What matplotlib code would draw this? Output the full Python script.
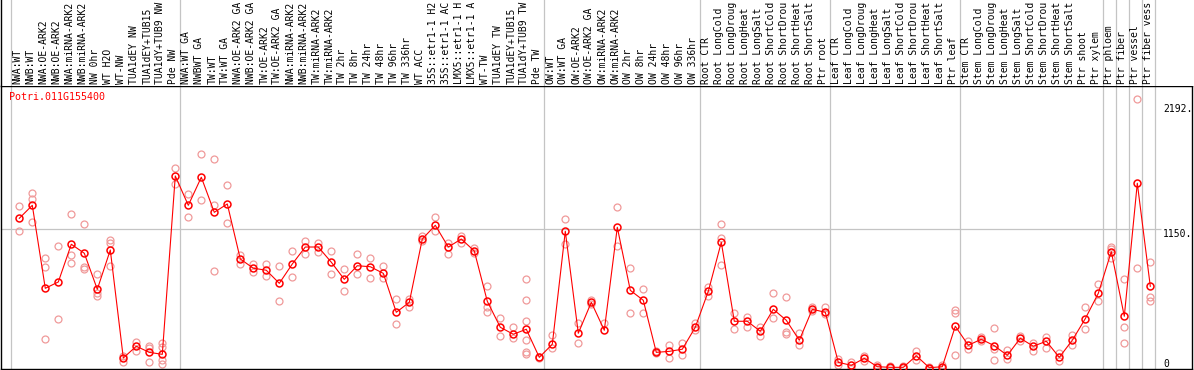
"""Expression profile of Potri.011G155400 across poplar samples (eFP-style strip chart)."""

import matplotlib

matplotlib.use("Agg")
import matplotlib.pyplot as plt
import numpy as np

GENE = "Potri.011G155400"

# sample names as far as they are shown in the header strip
SAMPLES = [
    "NWA:WT", "NWB:WT", "NWA:OE-ARK2", "NWB:OE-ARK2", "NWA:miRNA-ARK2", "NWB:miRNA-ARK2",
    "NW 0hr", "WT H2O", "WT-NW", "TUA1dEY NW", "TUA1dEY+TUB15", "TUA1dY+TUB9 NW", "Pde NW",
    "NWA:WT GA", "NWBWT GA", "TW:WT", "TW:WT GA", "NWA:OE-ARK2 GA", "NWB:OE-ARK2 GA",
    "TW:OE-ARK2", "TW:OE-ARK2 GA", "NWA:miRNA-ARK2", "NWB:miRNA-ARK2", "TW:miRNA-ARK2",
    "TW:miRNA-ARK2", "TW 2hr", "TW 8hr", "TW 24hr", "TW 48hr", "TW 96hr", "TW 336hr",
    "WT ACC", "35S::etr1-1 H2", "35S::etr1-1 AC", "LMX5::etr1-1 H", "LMX5::etr1-1 A",
    "WT-TW", "TUA1dEY TW", "TUA1dEY+TUB15", "TUA1dY+TUB9 TW", "Pde TW",
    "OW:WT", "OW:WT GA", "OW:OE-ARK2", "OW:OE-ARK2 GA", "OW:miRNA-ARK2", "OW:miRNA-ARK2",
    "OW 2hr", "OW 8hr", "OW 24hr", "OW 48hr", "OW 96hr", "OW 336hr",
    "Root CTR", "Root LongCold", "Root LongDroug", "Root LongHeat", "Root LongSalt",
    "Root ShortCold", "Root ShortDrou", "Root ShortHeat", "Root ShortSalt", "Ptr root",
    "Leaf CTR", "Leaf LongCold", "Leaf LongDroug", "Leaf LongHeat", "Leaf LongSalt",
    "Leaf ShortCold", "Leaf ShortDrou", "Leaf ShortHeat", "Leaf ShortSalt", "Ptr leaf",
    "Stem CTR", "Stem LongCold", "Stem LongDroug", "Stem LongHeat", "Stem LongSalt",
    "Stem ShortCold", "Stem ShortDrou", "Stem ShortHeat", "Stem ShortSalt", "Ptr shoot",
    "Ptr xylem", "Ptr phloem", "Ptr fiber", "Ptr vessel", "Ptr fiber vess",
]

MEANS = [
    1233, 1337, 672, 723, 1025, 953, 664, 979, 114, 208,
    159, 143, 1572, 1337, 1562, 1281, 1348, 907, 833, 817,
    712, 867, 1003, 1003, 881, 744, 853, 845, 792, 480,
    560, 1067, 1177, 1003, 1067, 971, 568, 360, 304, 344,
    119, 224, 1129, 312, 560, 336, 1161, 656, 576, 159,
    167, 184, 360, 648, 1041, 408, 408, 328, 504, 416,
    256, 504, 480, 79, 55, 111, 44, 39, 39, 132,
    36, 44, 368, 216, 264, 212, 135, 272, 208, 248,
    119, 256, 429, 632, 966, 448, 1514, 688,
]

REPLICATES = [
    [1334, 1129], [1436, 1385, 1201], [913, 841, 264], [1009, 429], [1265, 937, 873],
    [1185, 841, 829], [784, 632, 613], [1059, 1033, 853], [79, 132], [240, 172],
    [210, 79, 192], [236, 204, 98, 66], [1634, 1508], [1425, 1246], [1748, 1380],
    [1706, 1340, 809], [1500, 1196], [939, 865], [867, 805], [867, 771],
    [851, 571], [969, 763], [1051, 945], [1033, 966], [969, 784],
    [829, 648], [945, 784], [915, 752], [851, 752], [584, 384],
    [584, 525], [1094, 1051], [1241, 1134], [1038, 945], [1091, 1038],
    [993, 958], [688, 525, 480], [432, 288], [360, 272], [744, 576, 408, 256, 159, 143],
    [125, 112], [296, 192], [1225, 1025], [392, 232], [579, 547],
    [392], [1321, 1009], [833, 472], [664, 472], [172, 151],
    [216, 111], [232, 135], [392, 336], [685, 608], [1185, 1073, 857],
    [472, 349], [440, 365], [360, 292], [632, 432], [600, 320, 306],
    [317, 220], [520, 490], [525, 464], [103, 55], [79, 30],
    [130, 92], [60, 30], [50, 30], [50, 30], [172, 95],
    [45, 28], [60, 30], [496, 477, 135], [252, 188], [284, 248],
    [352, 188, 95], [180, 103], [292, 248], [232, 172], [284, 192],
    [151, 92], [296, 216], [525, 344], [704, 568], [1001, 990, 913],
    [744, 360, 232], [2192, 833], [879, 605, 568],
]

# last sample index of each group (-1 = line before the first sample)
GROUP_ENDS = [-1, 12, 40, 52, 62, 72, 83, 84, 85, 86, 87]

Y_TICKS = [0, 1150, 2192]
Y_TICK_LABELS = ["0", "1150.", "2192."]
Y_TICK_OFFSETS = [13.5, 0, -5.7]  # pixels, label top relative to value
GRID_VALUE = 1150

W, H = 1194, 370
PX = 13.0          # pixels per sample
X_LEFT = -1.446    # data x at left edge of the axes
Y_RANGE = (25.6, 2297)

RED = "#ff0000"
PINK = "#f09a9a"
GREY = "#c4c4c4"
FONT = "DejaVu Sans Mono"


def main():
    fig = plt.figure(figsize=(W / 100, H / 100), dpi=100)

    # --- main plot area ---
    ax = fig.add_axes([0.5 / W, (H - 369) / H, 1191 / W, 283.5 / H])
    ax.set_xlim(X_LEFT, X_LEFT + 1191 / PX)
    ax.set_ylim(*Y_RANGE)
    ax.set_xticks([])
    ax.set_yticks([])
    for sp in ax.spines.values():
        sp.set_linewidth(1.0)
        sp.set_color("black")

    x = np.arange(len(SAMPLES))
    for g in GROUP_ENDS:
        ax.axvline(g + 0.38, color=GREY, linewidth=0.9, zorder=0)
    ax.hlines(GRID_VALUE, X_LEFT, 87.8, color=GREY, linewidth=0.9, zorder=0)

    rx = np.concatenate([[i] * len(r) for i, r in enumerate(REPLICATES)])
    ry = np.concatenate(REPLICATES)
    ax.plot(rx, ry, linestyle="none", marker="o", markersize=5, fillstyle="none",
            markeredgecolor=PINK, markeredgewidth=0.9, zorder=2)
    ax.plot(x, MEANS, color=RED, linewidth=0.8, zorder=3)
    ax.plot(x, MEANS, linestyle="none", marker="o", markersize=5, fillstyle="none",
            markeredgecolor=RED, markeredgewidth=1.1, zorder=4)

    ax.text(0.0075, 0.959, GENE, transform=ax.transAxes, color=RED, fontsize=7.2,
            family=FONT, ha="left", va="center")

    for v, lab, off in zip(Y_TICKS, Y_TICK_LABELS, Y_TICK_OFFSETS):
        ax.annotate(lab, xy=(88.0, v), xytext=(0, off), textcoords="offset pixels",
                    ha="left", va="top", fontsize=7, family=FONT, annotation_clip=False)

    # --- rotated sample labels above ---
    axl = fig.add_axes([0.5 / W, (H - 85.5) / H, 1193.5 / W, 85.5 / H])
    axl.set_xlim(X_LEFT, X_LEFT + 1193.5 / PX)
    axl.set_ylim(0, 1)
    axl.set_xticks([])
    axl.set_yticks([])
    for name, sp in axl.spines.items():
        sp.set_visible(name == "left")
    axl.spines["left"].set_linewidth(1.0)
    for g in GROUP_ENDS:
        axl.axvline(g + 0.38, color=GREY, linewidth=0.9, zorder=0)
    for i, name in enumerate(SAMPLES):
        axl.text(i - 0.15, 0.018, name, rotation=90, ha="center", va="bottom",
                 fontsize=7, family=FONT, transform=axl.get_xaxis_transform(),
                 clip_on=True)

    fig.savefig("out.png", dpi=100)
    plt.close(fig)


if __name__ == "__main__":
    main()
